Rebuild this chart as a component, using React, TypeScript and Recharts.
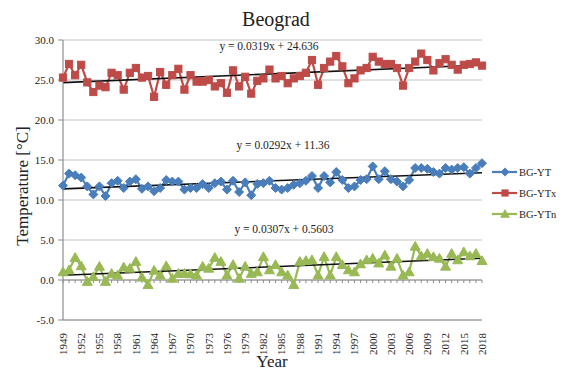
import React from "react";
import { LineChart, Line, XAxis, YAxis, CartesianGrid, ReferenceLine } from "recharts";

const years: string[] = Array.from({ length: 70 }, (_, i) => String(1949 + i));

const ytValues = [
  11.8, 13.3, 13.1, 12.8, 11.7, 10.7, 11.7, 10.5, 12.1, 12.4,
  11.5, 12.3, 12.6, 11.4, 11.7, 11.1, 11.5, 12.5, 12.3, 12.3,
  11.3, 11.5, 11.5, 12.0, 11.5, 12.1, 12.3, 11.3, 12.4, 11.0,
  12.2, 10.6, 12.0, 12.1, 12.4, 11.5, 11.3, 11.5, 11.9, 12.1,
  12.4, 13.0, 11.5, 13.0, 12.2, 13.5, 12.5, 11.5, 11.7, 12.5,
  12.6, 14.2, 12.6, 13.6, 12.6, 12.3, 11.7, 12.5, 14.0, 14.0,
  13.9, 13.5, 13.3, 14.0, 13.8, 14.0, 14.1, 13.3, 14.0, 14.6,
];

const ytxValues = [
  25.3, 27.0, 25.6, 26.9, 24.7, 23.5, 24.3, 24.1, 25.9, 25.6,
  23.8, 25.9, 26.5, 25.3, 25.5, 22.9, 26.0, 24.4, 25.6, 26.4,
  23.8, 25.6, 24.8, 24.8, 25.0, 24.2, 24.6, 23.4, 26.2, 24.2,
  25.4, 23.3, 24.9, 25.2, 26.3, 25.2, 25.5, 24.6, 25.2, 25.5,
  25.9, 27.5, 24.4, 26.5, 27.3, 28.0, 26.7, 24.6, 25.2, 26.2,
  26.5, 27.9, 27.3, 27.0, 27.0, 26.5, 24.3, 26.5, 27.3, 28.3,
  27.5, 26.2, 27.1, 27.6, 26.9, 26.3, 26.9, 27.0, 27.2, 26.8,
];

const ytnValues = [
  1.0, 1.25, 2.8, 1.75, -0.2, 0.4, 1.7, -0.2, 0.8, 0.6,
  1.6, 1.45, 2.3, 0.33, -0.6, 1.2, 0.6, 1.75, 0.2, 0.8,
  0.8, 0.75, 0.6, 1.7, 1.45, 2.8, 2.3, 0.6, 1.9, 0.2,
  1.7, 0.8, 1.0, 2.9, 1.25, 1.9, 1.0, 0.6, -0.6, 2.3,
  2.4, 2.5, 0.6, 2.9, 0.6, 2.9, 1.9, 1.25, 1.0, 2.0,
  2.5, 2.7, 2.1, 3.1, 1.7, 2.7, 0.6, 1.0, 4.2, 3.0,
  3.3, 2.9, 2.7, 1.7, 3.3, 2.5, 3.5, 3.0, 3.3, 2.4,
];

// Trend line equations as printed on the chart: y = slope * x + intercept (x = 1..70)
const trendSlopes = [0.0292, 0.0319, 0.0307];
const trendIntercepts = [11.36, 24.636, 0.5603];
const trendLabels = ["y = 0.0292x + 11.36", "y = 0.0319x + 24.636", "y = 0.0307x + 0.5603"];

const seriesNames = ["BG-YT", "BG-YTx", "BG-YTn"];
const yTicks = [-5, 0, 5, 10, 15, 20, 25, 30];

const BLUE = "#4a7ebb";
const RED = "#be4b48";
const GREEN = "#98b954";
const FONT = "'Liberation Serif', 'Times New Roman', serif";

const data = years.map((y, i) => ({
  year: y,
  yt: ytValues[i],
  ytx: ytxValues[i],
  ytn: ytnValues[i],
}));

const Diamond = (props: any) => {
  const { cx, cy, key } = props;
  if (cx == null || cy == null) return <g key={key} />;
  const r = 4.5;
  return (
    <polygon
      key={key}
      points={`${cx},${cy - r} ${cx + r},${cy} ${cx},${cy + r} ${cx - r},${cy}`}
      fill={BLUE}
      stroke={BLUE}
    />
  );
};

const Square = (props: any) => {
  const { cx, cy, key } = props;
  if (cx == null || cy == null) return <g key={key} />;
  const r = 3.6;
  return <rect key={key} x={cx - r} y={cy - r} width={2 * r} height={2 * r} fill={RED} stroke={RED} />;
};

const Triangle = (props: any) => {
  const { cx, cy, key } = props;
  if (cx == null || cy == null) return <g key={key} />;
  const r = 5;
  return (
    <polygon
      key={key}
      points={`${cx},${cy - r} ${cx + r},${cy + r * 0.75} ${cx - r},${cy + r * 0.75}`}
      fill={GREEN}
      stroke={GREEN}
    />
  );
};

const XTick = (props: any) => {
  const { x, y, payload } = props;
  return (
    <text
      x={x}
      y={y + 5}
      transform={`rotate(-90, ${x}, ${y + 5})`}
      textAnchor="end"
      dy="0.35em"
      fontSize={11}
      fontFamily={FONT}
      fill="#222"
    >
      {payload.value}
    </text>
  );
};

const YTick = (props: any) => {
  const { x, y, payload } = props;
  return (
    <text x={x - 2} y={y} textAnchor="end" dy="0.35em" fontSize={11} fontFamily={FONT} fill="#222">
      {Number(payload.value).toFixed(1)}
    </text>
  );
};

const ZeroLine = (props: any) => {
  const { x1, x2, y1 } = props;
  if (x1 == null) return <g />;
  const n = years.length;
  const step = (x2 - x1) / (n - 1);
  const ticks = years.map((yr, i) => (
    <line key={yr} x1={x1 + i * step} x2={x1 + i * step} y1={y1} y2={y1 + 3} stroke="#8c8c8c" strokeWidth={1} />
  ));
  return (
    <g>
      <line x1={x1} x2={x2} y1={y1} y2={y1} stroke="#8c8c8c" strokeWidth={1.2} />
      {ticks}
    </g>
  );
};

const trendEnds = trendSlopes.map((s, i) => ({
  start: s * 1 + trendIntercepts[i],
  end: s * years.length + trendIntercepts[i],
}));

export default function App() {
  const legendItems = [
    { name: seriesNames[0], color: BLUE, shape: "diamond" },
    { name: seriesNames[1], color: RED, shape: "square" },
    { name: seriesNames[2], color: GREEN, shape: "triangle" },
  ];
  return (
    <div style={{ position: "absolute", left: 0, top: 0, width: 562, height: 374, background: "#fff" }}>
      <LineChart
        width={562}
        height={374}
        data={data}
        margin={{ top: 40, right: 80, left: 0, bottom: 0 }}
      >
        <CartesianGrid horizontal vertical={false} stroke="#c4c4c4" strokeWidth={1} />
        <XAxis
          dataKey="year"
          interval={2}
          tick={<XTick />}
          tickLine={false}
          axisLine={{ stroke: "#8c8c8c", strokeWidth: 1.2 }}
          height={54}
          padding={{ left: 0, right: 0 }}
        />
        <YAxis
          domain={[-5, 30]}
          ticks={yTicks}
          tick={<YTick />}
          tickLine={{ stroke: "#8c8c8c" }}
          tickSize={5}
          axisLine={{ stroke: "#8c8c8c", strokeWidth: 1.2 }}
          width={63}
          allowDataOverflow
        />
        <ReferenceLine y={0} shape={<ZeroLine />} />
        <Line
          dataKey="yt"
          name={seriesNames[0]}
          stroke={BLUE}
          strokeWidth={2.2}
          dot={Diamond}
          activeDot={false}
          isAnimationActive={false}
        />
        <Line
          dataKey="ytx"
          name={seriesNames[1]}
          stroke={RED}
          strokeWidth={2.2}
          dot={Square}
          activeDot={false}
          isAnimationActive={false}
        />
        <Line
          dataKey="ytn"
          name={seriesNames[2]}
          stroke={GREEN}
          strokeWidth={2.2}
          dot={Triangle}
          activeDot={false}
          isAnimationActive={false}
        />
        {trendEnds.map((t, i) => (
          <ReferenceLine
            key={i}
            segment={[
              { x: years[0], y: t.start },
              { x: years[years.length - 1], y: t.end },
            ]}
            stroke="#111"
            strokeWidth={1.6}
          />
        ))}
      </LineChart>
      <svg
        width={562}
        height={374}
        style={{ position: "absolute", left: 0, top: 0, pointerEvents: "none" }}
      >
        <text x={276} y={26} textAnchor="middle" fontSize={20} fontFamily={FONT} fill="#222">
          Beograd
        </text>
        <text
          x={22}
          y={186}
          transform="rotate(-90, 22, 186)"
          textAnchor="middle"
          dy="0.35em"
          fontSize={17}
          fontFamily={FONT}
          fill="#222"
        >
          Temperature [°C]
        </text>
        <text x={272} y={367} textAnchor="middle" fontSize={17} fontFamily={FONT} fill="#222">
          Year
        </text>
        <text x={269} y={50} textAnchor="middle" fontSize={11.5} fontFamily={FONT} fill="#222">
          {trendLabels[1]}
        </text>
        <text x={283} y={149} textAnchor="middle" fontSize={11.5} fontFamily={FONT} fill="#222">
          {trendLabels[0]}
        </text>
        <text x={284} y={233} textAnchor="middle" fontSize={11.5} fontFamily={FONT} fill="#222">
          {trendLabels[2]}
        </text>
        {legendItems.map((it, i) => {
          const cy = 172 + i * 21;
          const cx = 505;
          let marker: any = null;
          if (it.shape === "diamond")
            marker = <polygon points={`${cx},${cy - 4.5} ${cx + 4.5},${cy} ${cx},${cy + 4.5} ${cx - 4.5},${cy}`} fill={it.color} />;
          else if (it.shape === "square")
            marker = <rect x={cx - 3.6} y={cy - 3.6} width={7.2} height={7.2} fill={it.color} />;
          else
            marker = <polygon points={`${cx},${cy - 5} ${cx + 5},${cy + 3.75} ${cx - 5},${cy + 3.75}`} fill={it.color} />;
          return (
            <g key={it.name}>
              <line x1={492} x2={517} y1={cy} y2={cy} stroke={it.color} strokeWidth={2.2} />
              {marker}
              <text x={519} y={cy} dy="0.35em" fontSize={10.5} fontFamily={FONT} fill="#222">
                {it.name}
              </text>
            </g>
          );
        })}
      </svg>
    </div>
  );
}
